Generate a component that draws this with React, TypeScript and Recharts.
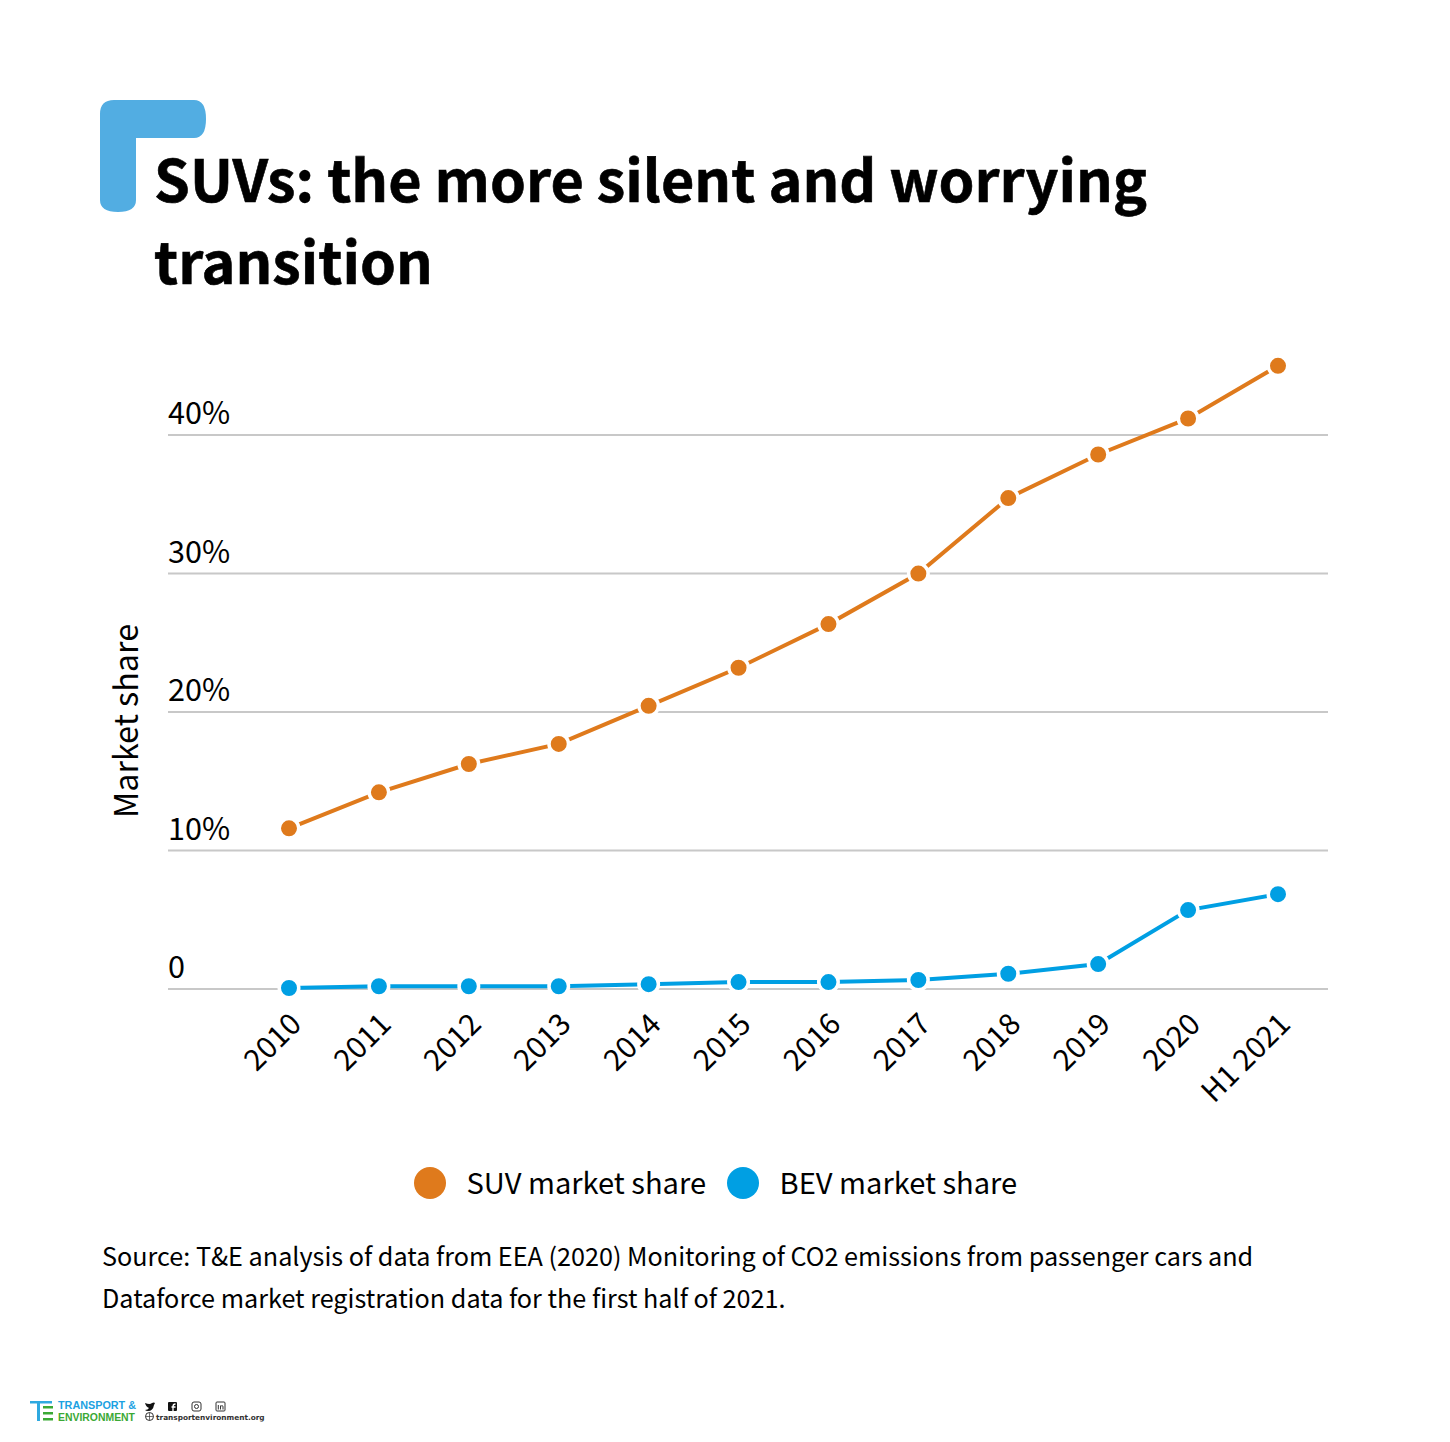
import React from "react";
import { LineChart, Line, XAxis, YAxis, CartesianGrid, Legend } from "recharts";

const years = ["2010","2011","2012","2013","2014","2015","2016","2017","2018","2019","2020","H1 2021"];
const suvShare = [11.6,14.2,16.25,17.7,20.45,23.2,26.35,30,35.45,38.6,41.2,45];
const bevShare = [0.07,0.2,0.2,0.2,0.35,0.5,0.5,0.65,1.1,1.8,5.7,6.85];
const yTicks = [0,10,20,30,40];
const titleLines = ["SUVs: the more silent and worrying","transition"];
const sourceLines = [
  "Source: T&E analysis of data from EEA (2020) Monitoring of CO2 emissions from passenger cars and",
  "Dataforce market registration data for the first half of 2021.",
];
const rows = years.map((year,i)=>({year,suv:suvShare[i],bev:bevShare[i]}));

const FONT = '"Noto Sans CJK SC","Noto Sans",sans-serif';
const ORANGE = "#DF7A1C";
const BLUE = "#009FE3";

const YTick = ({y,payload}: any) => (
  <text x={168} y={y-11} textAnchor="start" fontFamily={FONT} fontSize={30.6} fill="#000">
    {payload.value===0?"0":`${payload.value}%`}
  </text>
);
const XTick = ({x,y,payload}: any) => (
  <text x={x+14} y={y+29} textAnchor="end" fontFamily={FONT} fontSize={29.6} fill="#000" transform={`rotate(-45 ${x+14} ${y+29})`}>
    {payload.value}
  </text>
);
const LegendBody = ({payload}: any) => (
  <div style={{display:"flex",alignItems:"center",fontFamily:FONT,fontSize:29.1,color:"#000",height:40,width:700}}>
    {payload.map((p: any,i: number)=>(
      <div key={p.value} style={{display:"flex",alignItems:"center",marginRight:i===0?21:0}}>
        <span style={{width:32,height:32,borderRadius:16,background:p.color,display:"inline-block",marginRight:20.5,position:"relative",top:2}} />
        <span style={{whiteSpace:"nowrap"}}>{p.value}</span>
      </div>
    ))}
  </div>
);
const dot = (fill: string) => ({r:9.75,fill,stroke:"#fff",strokeWidth:3.5});

export default function App(){
  return (
    <div style={{position:"absolute",left:0,top:0,width:1450,height:1442,background:"#fff",overflow:"hidden",fontFamily:FONT}}>
      <svg width={1450} height={1442} style={{position:"absolute",left:0,top:0}}>
        <path d="M114 100 H194 Q206 100 206 119 Q206 138 194 138 H136 V200 Q136 212 118 212 Q100 212 100 200 V114 Q100 100 114 100 Z" fill="#52ADE2"/>
      </svg>
      {titleLines.map((t,i)=>(
        <div key={t} style={{position:"absolute",left:154,top:132+i*82,fontSize:57.5,lineHeight:"90px",fontWeight:700,color:"#000",whiteSpace:"nowrap",WebkitTextStroke:"0.6px #000"}}>{t}</div>
      ))}
      <div style={{position:"absolute",left:0,top:0}}>
        <LineChart width={1450} height={1230} data={rows} margin={{top:352,right:122,bottom:240,left:167}}>
          <CartesianGrid horizontal vertical={false} stroke="#C8C8C8" strokeWidth={2} horizontalValues={yTicks}/>
          <XAxis dataKey="year" scale="point" padding={{left:121,right:50}} axisLine={false} tickLine={false} tick={<XTick/>} interval={0} height={1}/>
          <YAxis domain={[0,46]} ticks={yTicks} axisLine={false} tickLine={false} tick={<YTick/>} width={1}/>
          <Legend content={<LegendBody/>} itemSorter={null} wrapperStyle={{left:414,top:1161,width:700,height:0,overflow:"visible"}}/>
          <Line dataKey="suv" name="SUV market share" stroke={ORANGE} strokeWidth={4} dot={dot(ORANGE)} isAnimationActive={false}/>
          <Line dataKey="bev" name="BEV market share" stroke={BLUE} strokeWidth={4} dot={dot(BLUE)} isAnimationActive={false}/>
        </LineChart>
      </div>
      <svg width={60} height={260} style={{position:"absolute",left:100,top:600}}>
        <text x={0} y={0} transform="translate(38 121) rotate(-90)" textAnchor="middle" fontFamily={FONT} fontSize={32.3} fill="#000">Market share</text>
      </svg>
      {sourceLines.map((t,i)=>(
        <div key={i} style={{position:"absolute",left:102,top:1234+i*42,fontSize:25.2,lineHeight:"42px",color:"#000",whiteSpace:"nowrap"}}>{t}</div>
      ))}
      <svg width={300} height={50} style={{position:"absolute",left:0,top:1392}}>
        <rect x={30} y={9} width={22} height={2.5} fill="#2FA9E0"/>
        <rect x={37} y={9} width={3} height={20} fill="#2FA9E0"/>
        <rect x={43} y={14} width={10} height={2.5} fill="#3BA935"/>
        <rect x={43} y={20} width={10} height={2.5} fill="#3BA935"/>
        <rect x={43} y={26} width={10} height={2.5} fill="#3BA935"/>
        <text x={58} y={17} fontFamily="Liberation Sans" fontSize={10} fontWeight={700} fill="#1BA1E2" textLength={78} lengthAdjust="spacingAndGlyphs">TRANSPORT &amp;</text>
        <text x={58} y={28.5} fontFamily="Liberation Sans" fontSize={10} fontWeight={700} fill="#3BA935" textLength={77} lengthAdjust="spacingAndGlyphs">ENVIRONMENT</text>
        <path d="M145 11 Q150 13 152 11 Q154 10 155 11 L154 13 Q153 19 148 19 Q146 19 145 18 Q148 18 149 16 Q146 15 145 11Z" fill="#111"/>
        <rect x={168} y={10} width={9} height={9} rx={1} fill="#111"/>
        <path d="M173 19 V14.5 Q173 12 175.5 12 M171.5 15 H175.5" fill="none" stroke="#fff" strokeWidth={1.3}/>
        <rect x={192} y={10} width={9} height={9} rx={2} fill="none" stroke="#333" strokeWidth={1}/>
        <circle cx={196.5} cy={14.5} r={2} fill="none" stroke="#333" strokeWidth={1}/>
        <rect x={216} y={10} width={9} height={9} rx={1} fill="none" stroke="#333" strokeWidth={1}/>
        <path d="M218.3 13 V17.5 M220.5 17.5 V13.5 M220.5 14.5 Q223 12.5 223 15 V17.5" fill="none" stroke="#333" strokeWidth={1}/>
        <circle cx={149.5} cy={24.5} r={4} fill="none" stroke="#333" strokeWidth={1}/>
        <path d="M145.5 24.5 H153.5 M149.5 20.5 V28.5" stroke="#333" strokeWidth={0.7}/>
        <text x={156} y={28} fontFamily="DejaVu Sans" fontSize={7.35} fontWeight={700} fill="#333">transportenvironment.org</text>
      </svg>
    </div>
  );
}
